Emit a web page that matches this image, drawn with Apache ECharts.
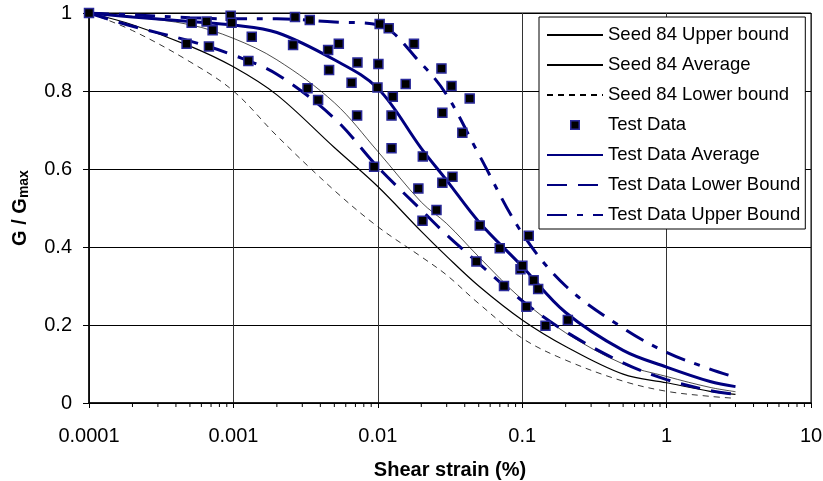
<!DOCTYPE html>
<html>
<head>
<meta charset="utf-8">
<script src="https://cdn.jsdelivr.net/npm/echarts@6/dist/echarts.min.js"></script>
<style>
  html, body { margin: 0; padding: 0; background: #fff; }
  #chart { width: 823px; height: 481px; }
</style>
</head>
<body>
<div id="chart"></div>
<script>
// shear strain (%) used by all the curves
var strain = [0.0001, 0.0002, 0.0005, 0.001, 0.002, 0.005, 0.01, 0.02, 0.03, 0.05, 0.1, 0.2, 0.5, 1, 2, 3];

// G/Gmax curves
var seedUpper   = [1.0, 0.99, 0.97, 0.935, 0.88, 0.77, 0.645, 0.515, 0.46, 0.375, 0.265, 0.18, 0.10, 0.068, 0.04, 0.029];
var seedAverage = [1.0, 0.97, 0.915, 0.862, 0.79, 0.655, 0.555, 0.44, 0.376, 0.30, 0.213, 0.145, 0.074, 0.052, 0.03, 0.022];
var seedLower   = [1.0, 0.955, 0.875, 0.80, 0.685, 0.545, 0.452, 0.375, 0.328, 0.255, 0.166, 0.11, 0.056, 0.03, 0.017, 0.012];
var testAverage = [1.0, 0.99, 0.978, 0.969, 0.95, 0.88, 0.807, 0.653, 0.571, 0.465, 0.35, 0.232, 0.135, 0.092, 0.055, 0.042];
var testLower   = [1.0, 0.966, 0.928, 0.892, 0.843, 0.73, 0.605, 0.495, 0.431, 0.358, 0.262, 0.183, 0.103, 0.06, 0.032, 0.022];
var testUpper   = [1.0, 0.995, 0.988, 0.985, 0.985, 0.977, 0.97, 0.87, 0.79, 0.638, 0.435, 0.30, 0.192, 0.13, 0.087, 0.066];

// test data points
var testStrain = [0.0001, 0.000474, 0.000514, 0.000652, 0.000677, 0.000718, 0.000957, 0.000972, 0.00127, 0.00134,
  0.00259, 0.00267, 0.00326, 0.00338, 0.00386, 0.00453, 0.0046, 0.00537, 0.00658, 0.00719,
  0.00723, 0.00943, 0.00995, 0.0101, 0.0103, 0.0119, 0.01245, 0.01245, 0.0127, 0.0156,
  0.0178, 0.0191, 0.0204, 0.0205, 0.0255, 0.0276, 0.028, 0.028, 0.0324, 0.0329,
  0.0385, 0.0433, 0.0482, 0.0508, 0.0699, 0.0748, 0.0973, 0.1003, 0.107, 0.111,
  0.12, 0.129, 0.145, 0.207];
var testG = [1.0, 0.921, 0.975, 0.978, 0.914, 0.956, 0.993, 0.975, 0.877, 0.939,
  0.918, 0.99, 0.807, 0.982, 0.777, 0.905, 0.854, 0.921, 0.821, 0.737,
  0.873, 0.606, 0.809, 0.869, 0.972, 0.961, 0.737, 0.653, 0.785, 0.818,
  0.921, 0.55, 0.467, 0.632, 0.495, 0.858, 0.565, 0.744, 0.813, 0.58,
  0.693, 0.781, 0.363, 0.455, 0.397, 0.3, 0.343, 0.352, 0.247, 0.429,
  0.315, 0.292, 0.198, 0.213];

var decades = [0.0001, 0.001, 0.01, 0.1, 1];

function pairs(xs, ys) {
  return xs.map(function (x, i) { return [x, ys[i]]; });
}

// minor tick marks at 2..9 of each decade
var minorTicks = [];
decades.forEach(function (d) {
  for (var k = 2; k <= 9; k++) minorTicks.push([+(d * k).toPrecision(3), 0]);
});

var font = 'Liberation Sans, Arial, sans-serif';
var navy = '#000080';

// small square legend icon for the test data
function squareIcon() {
  var c = document.createElement('canvas');
  c.width = 56; c.height = 14;
  var ctx = c.getContext('2d');
  ctx.fillStyle = '#2a2a9a';
  ctx.fillRect(23, 2, 10, 10);
  ctx.fillStyle = '#000';
  ctx.fillRect(24.5, 3.5, 7, 7);
  return 'image://' + c.toDataURL();
}

function curve(name, data, color, width, dash) {
  return {
    name: name,
    type: 'line',
    data: data,
    smooth: 0.35,
    symbol: 'none',
    lineStyle: { color: color, width: width, type: dash || 'solid' },
    itemStyle: { color: color },
    z: 3
  };
}

function lineItem(name) {
  return { name: name, itemStyle: { opacity: 0 } };
}

var chart = echarts.init(document.getElementById('chart'));
chart.setOption({
  animation: false,
  backgroundColor: '#fff',
  grid: {
    left: 89, right: 12, top: 13, bottom: 78,
    outerBoundsMode: 'none',
    show: true, borderColor: '#000', borderWidth: 1
  },
  legend: {
    orient: 'vertical',
    left: 539,
    top: 17,
    padding: [8, 5, 4, 7],
    itemGap: 10,
    itemWidth: 56,
    itemHeight: 14,
    backgroundColor: '#fff',
    borderColor: '#000',
    borderWidth: 1,
    textStyle: { fontFamily: font, fontSize: 18.5, color: '#000', lineHeight: 20 },
    data: [
      lineItem('Seed 84 Upper bound'),
      lineItem('Seed 84 Average'),
      lineItem('Seed 84 Lower bound'),
      { name: 'Test Data', icon: squareIcon() },
      lineItem('Test Data Average'),
      lineItem('Test Data Lower Bound'),
      lineItem('Test Data Upper Bound')
    ]
  },
  xAxis: {
    type: 'log',
    logBase: 10,
    min: 0.0001,
    max: 10,
    name: 'Shear strain (%)',
    nameLocation: 'middle',
    nameGap: 57,
    nameTextStyle: { fontFamily: font, fontSize: 20, fontWeight: 'bold', color: '#000' },
    axisLine: { lineStyle: { color: '#000', width: 1.5 } },
    axisTick: { show: true, length: 5, lineStyle: { color: '#000' } },
    axisLabel: {
      fontFamily: font, fontSize: 20, color: '#000', margin: 23,
      formatter: function (v) { return String(+v.toPrecision(3)); }
    },
    splitLine: { show: true, lineStyle: { color: '#333', width: 1 } }
  },
  yAxis: {
    type: 'value',
    min: 0,
    max: 1,
    interval: 0.2,
    name: '{a|G / G}{b|max}',
    nameLocation: 'middle',
    nameGap: 58,
    nameTextStyle: {
      fontFamily: font, fontWeight: 'bold', color: '#000',
      rich: {
        a: { fontFamily: font, fontSize: 20, fontWeight: 'bold', color: '#000' },
        b: { fontFamily: font, fontSize: 14, fontWeight: 'bold', color: '#000', padding: [8, 0, 0, 0] }
      }
    },
    axisLine: { show: true, lineStyle: { color: '#000', width: 1.5 } },
    axisTick: { show: true, length: 6, lineStyle: { color: '#000' } },
    axisLabel: {
      fontFamily: font, fontSize: 20, color: '#000', margin: 17,
      formatter: function (v) { return String(+v.toFixed(1)); }
    },
    splitLine: { show: true, lineStyle: { color: '#000', width: 1 } }
  },
  series: [
    curve('Seed 84 Upper bound', pairs(strain, seedUpper), '#000', 0.7),
    curve('Seed 84 Average', pairs(strain, seedAverage), '#000', 1.2),
    curve('Seed 84 Lower bound', pairs(strain, seedLower), '#000', 0.8, [6, 5]),
    {
      name: 'Test Data',
      type: 'scatter',
      data: pairs(testStrain, testG),
      symbol: 'rect',
      symbolSize: 9,
      itemStyle: { color: '#000', opacity: 1, borderColor: '#2a2a9a', borderWidth: 1.5 },
      z: 5
    },
    curve('Test Data Average', pairs(strain, testAverage), navy, 3),
    curve('Test Data Lower Bound', pairs(strain, testLower), navy, 3, [20, 11]),
    curve('Test Data Upper Bound', pairs(strain, testUpper), navy, 3, [20, 10, 6, 10]),
    {
      name: 'minor',
      type: 'custom',
      clip: false,
      silent: true,
      data: minorTicks,
      z: 6,
      renderItem: function (params, api) {
        var p = api.coord([api.value(0), 0]);
        return {
          type: 'line',
          shape: { x1: p[0], y1: p[1], x2: p[0], y2: p[1] + 4 },
          style: { stroke: '#000', lineWidth: 1 }
        };
      }
    }
  ]
});
</script>
</body>
</html>
